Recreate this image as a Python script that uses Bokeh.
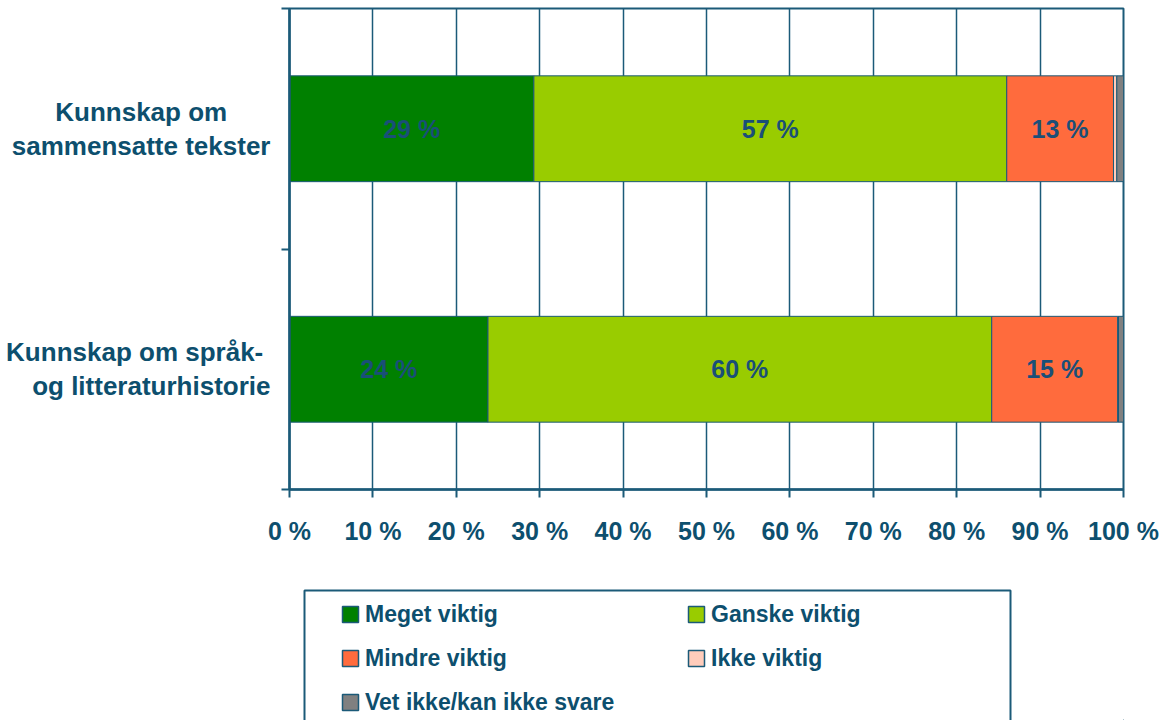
from bokeh.plotting import figure
from bokeh.models import (ColumnDataSource, Range1d, FixedTicker, Legend,
                          LegendItem, LabelSet)
from bokeh.core.properties import value
from bokeh.layouts import column
from bokeh.embed import file_html
from bokeh.resources import INLINE

# ---- data (bottom category first) ----
categories = ["Kunnskap om språk-\nog litteraturhistorie",
              "Kunnskap om\nsammensatte tekster"]
series_names = ["Meget viktig", "Ganske viktig", "Mindre viktig",
                "Ikke viktig", "Vet ikke/kan ikke svare"]
meget = [23.8, 29.3]
ganske = [60.4, 56.7]
mindre = [15.1, 12.8]
ikke = [0.1, 0.4]
vet = [0.6, 0.8]
x_ticks = [0, 10, 20, 30, 40, 50, 60, 70, 80, 90, 100]
x_tick_labels = ["0 %", "10 %", "20 %", "30 %", "40 %", "50 %",
                 "60 %", "70 %", "80 %", "90 %", "100 %"]

colors = ["#008000", "#99CC00", "#FF6B3D", "#FFCCBB", "#808080"]
TXT = "#0D4F6E"
EDGE = "#1B5A78"
FONT = "Liberation Sans"
NB = "\u00a0"

series = [meget, ganske, mindre, ikke, vet]
keys = ["s0", "s1", "s2", "s3", "s4"]
ypos = [i + 0.5 for i in range(len(categories))]

data = {"y": ypos}
for k, s in zip(keys, series):
    data[k] = s
source = ColumnDataSource(data)

W = 1165
FRAME_LEFT = 289
p = figure(width=W, height=580, output_backend="svg", toolbar_location=None,
           x_range=Range1d(0, 100), y_range=Range1d(0, 2),
           min_border_left=FRAME_LEFT, min_border_right=W - 1123,
           min_border_top=8, min_border_bottom=91)
p.background_fill_color = "white"
p.border_fill_color = "white"
p.outline_line_color = EDGE
p.outline_line_width = 2

p.hbar_stack(keys, y="y", height=0.44, color=colors, source=source,
             line_color=EDGE, line_width=1)

# value labels
lx, ly, lt = [], [], []
for i in range(len(categories)):
    cum = 0.0
    for s in series:
        v = s[i]
        if v >= 5:
            lx.append(cum + v / 2)
            ly.append(ypos[i])
            lt.append(f"{round(v)} %")
        cum += v
lab_src = ColumnDataSource(dict(x=lx, y=ly, t=lt))
p.add_layout(LabelSet(x="x", y="y", text="t", source=lab_src,
                      text_align="center", text_baseline="middle",
                      text_font=value(FONT), text_font_style="bold",
                      text_font_size="25px", text_color="#1A4F78"))

# x axis
xa = p.xaxis[0]
xa.ticker = FixedTicker(ticks=x_ticks, minor_ticks=[])
xa.major_label_overrides = {t: l for t, l in zip(x_ticks, x_tick_labels)}
xa.major_label_text_font = FONT
xa.major_label_text_font_style = "bold"
xa.major_label_text_font_size = "25px"
xa.major_label_text_color = TXT
xa.major_label_standoff = 19
xa.axis_line_color = EDGE
xa.axis_line_width = 2.5
xa.major_tick_line_color = EDGE
xa.major_tick_line_width = 2
xa.major_tick_out = 8
xa.major_tick_in = 0
xa.minor_tick_line_color = None

# y axis: category labels at centres, ticks at boundaries.
# Lines are right-aligned by the axis; pad the shorter line with
# non-breaking spaces so the two lines appear centred on each other.
pad = {0: 1, 1: 6}
y_labels = {}
for i, (yv, c) in enumerate(zip(ypos, categories)):
    a, b = c.split("\n")
    if len(a) < len(b):
        a = a + NB * pad[i]
    else:
        b = b + NB * pad[i]
    y_labels[yv] = a + "\n" + b

ya = p.yaxis[0]
ya.ticker = FixedTicker(ticks=ypos, minor_ticks=[0, 1, 2])
ya.major_label_overrides = y_labels
ya.major_label_text_font = FONT
ya.major_label_text_font_style = "bold"
ya.major_label_text_font_size = "26px"
ya.major_label_text_color = TXT
ya.major_label_text_line_height = 1.13
ya.major_label_standoff = 11
ya.axis_line_color = EDGE
ya.axis_line_width = 2.5
ya.major_tick_line_color = None
ya.major_tick_out = 0
ya.major_tick_in = 0
ya.minor_tick_line_color = EDGE
ya.minor_tick_line_width = 2
ya.minor_tick_out = 8
ya.minor_tick_in = 0

p.xgrid.ticker = FixedTicker(ticks=x_ticks)
p.xgrid.grid_line_color = EDGE
p.xgrid.grid_line_width = 1.5
p.ygrid.grid_line_color = None

# ---- legend panel (frame aligned with main frame: x 289..1123) ----
p2 = figure(width=W, height=140, output_backend="svg", toolbar_location=None,
            x_range=Range1d(289, 1123), y_range=Range1d(720, 580),
            x_axis_type=None, y_axis_type=None,
            min_border_left=FRAME_LEFT, min_border_right=W - 1123,
            min_border_top=0, min_border_bottom=0)
p2.outline_line_color = None
p2.xgrid.visible = False
p2.ygrid.visible = False
p2.quad(left=[304], right=[1010], top=[590], bottom=[760],
        fill_color=None, line_color=EDGE, line_width=2)

items = []
for name, col in zip(series_names, colors):
    r = p2.hbar(y=[2000], right=[2000], left=[1999], height=1,
                fill_color=col, line_color=EDGE, line_width=1.5)
    items.append(LegendItem(label=name, renderers=[r]))

leg = Legend(items=items, location=(51, 4), orientation="horizontal", ncols=2,
             border_line_color=None, background_fill_alpha=0,
             padding=0, margin=0, spacing=16,
             label_width=305, label_height=28, glyph_width=20, glyph_height=20,
             label_standoff=5, label_text_font=FONT,
             label_text_font_style="bold", label_text_font_size="23px",
             label_text_color=TXT)
p2.add_layout(leg)

layout = column(p, p2, spacing=0)
open("out.html", "w").write(file_html(layout, INLINE))
